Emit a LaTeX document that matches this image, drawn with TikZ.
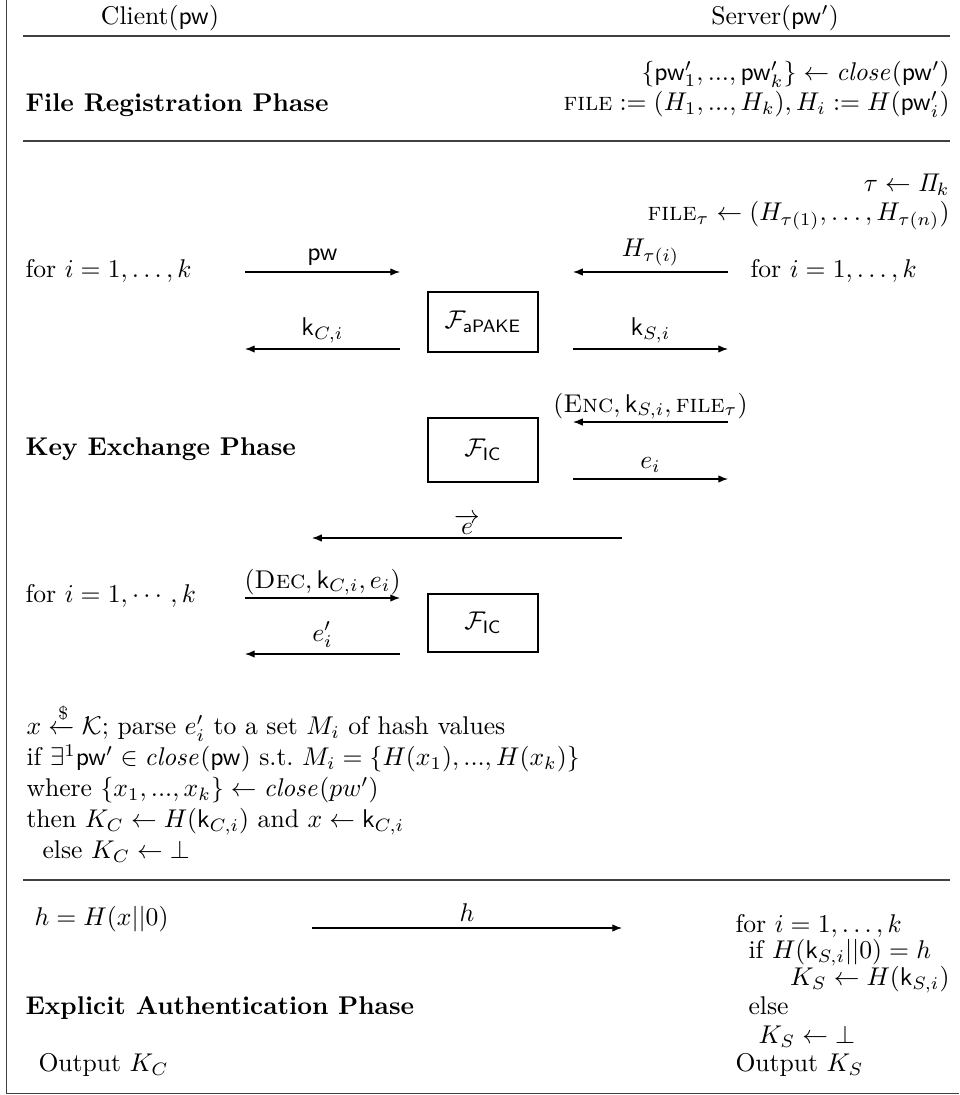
\documentclass[tikz,border=0pt]{standalone}
\usepackage{amsmath,amssymb}
\usetikzlibrary{arrows.meta}
\begin{document}
\begin{tikzpicture}[x=0.39pt,y=-0.39pt,
  msg/.style={-{Latex[length=3.8pt,width=2.9pt]},line width=0.42pt},
  rule/.style={line width=0.7pt,draw=black!75},
  func/.style={draw,line width=0.45pt,minimum width={110*0.39pt},inner sep=0pt},
  txtl/.style={anchor=mid west,inner sep=0pt},
  txtr/.style={anchor=mid east,inner sep=0pt},
  lbl/.style={above,inner sep=2.2pt}]
\useasboundingbox (0,0) rectangle (959,1095);

% outer frame (left and bottom edges)
\draw[rule] (6.5,0) -- (6.5,1093.5) -- (959,1093.5);

% parties
\node[inner sep=0pt] (client) at (160,18) {Client($\mathsf{pw}$)};
\node[inner sep=0pt] (server) at (775,18) {Server($\mathsf{pw}'$)};
\draw[rule] (23,36) -- (950,36);

% file registration phase
\node[txtr] (reg1) at (950,75) {$\{\mathsf{pw}'_1,...,\mathsf{pw}'_k\}\leftarrow \mathit{close}(\mathsf{pw}')$};
\node[txtr] (reg2) at (950,105) {$\textsc{file}:=(H_1,...,H_k), H_i:=H(\mathsf{pw}'_i)$};
\node[txtl] (ph1) at (25,106) {\textbf{File Registration Phase}};
\draw[rule] (23,141) -- (950,141);

% key exchange phase
\node[txtr] (perm) at (950,186) {$\tau\leftarrow \mathit{\Pi}_k$};
\node[txtr] (filetau) at (950,215) {$\textsc{file}_\tau\leftarrow (H_{\tau(1)},\ldots,H_{\tau(n)})$};
\node[txtl] (forc1) at (25,272) {for $i=1,\ldots,k$};
\node[txtl] (fors1) at (750,272) {for $i=1,\ldots,k$};
\node[txtl] (ph2) at (25,450) {\textbf{Key Exchange Phase}};

\node[func,minimum height={60*0.39pt}] (apake) at (483,322) {$\mathcal{F}_{\mathsf{aPAKE}}$};
\node[func,minimum height={64*0.39pt}] (ic1) at (483,450) {$\mathcal{F}_{\mathsf{IC}}$};
\node[func,minimum height={58*0.39pt}] (ic2) at (483,623) {$\mathcal{F}_{\mathsf{IC}}$};

\coordinate (cL1) at (245,272); \coordinate (cR1) at (400,272);
\coordinate (sL1) at (573,272); \coordinate (sR1) at (728,272);
\coordinate (cL2) at (245,349); \coordinate (cR2) at (400,349);
\coordinate (sL2) at (573,349); \coordinate (sR2) at (728,349);
\coordinate (sL3) at (573,422); \coordinate (sR3) at (728,422);
\coordinate (sL4) at (573,479); \coordinate (sR4) at (728,479);
\coordinate (eR) at (622,538); \coordinate (eL) at (312,538);
\coordinate (cL5) at (245,598); \coordinate (cR5) at (400,598);
\coordinate (cL6) at (245,654); \coordinate (cR6) at (400,654);

\draw[msg] (cL1) -- node[lbl] {$\mathsf{pw}$} (cR1);
\draw[msg] (sR1) -- node[lbl] {$H_{\tau(i)}$} (sL1);
\draw[msg] (cR2) -- node[lbl] {$\mathsf{k}_{C,i}$} (cL2);
\draw[msg] (sL2) -- node[lbl] {$\mathsf{k}_{S,i}$} (sR2);
\draw[msg] (sR3) -- node[lbl,inner sep=0.8pt] {$(\textsc{Enc},\mathsf{k}_{S,i},\textsc{file}_\tau)$} (sL3);
\draw[msg] (sL4) -- node[lbl] {$e_i$} (sR4);
\draw[msg] (eR) -- node[lbl,inner sep=1pt] {$\overrightarrow{e}$} (eL);

\node[txtl] (forc2) at (25,597) {for $i=1,\cdots,k$};
\draw[msg] (cL5) -- node[lbl,inner sep=0.8pt] {$(\textsc{Dec},\mathsf{k}_{C,i},e_i)$} (cR5);
\draw[msg] (cR6) -- node[lbl] {$e'_i$} (cL6);

% client-side check
\node[txtl] (chk1) at (26,729) {$x\xleftarrow{\$}\mathcal{K}$; parse $e'_i$ to a set $M_i$ of hash values};
\node[txtl] (chk2) at (26,760) {if $\exists^1\mathsf{pw}'\in\mathit{close}(\mathsf{pw})$ s.t.\ $M_i=\{H(x_1),...,H(x_k)\}$};
\node[txtl] (chk3) at (26,791) {where $\{x_1,...,x_k\}\leftarrow \mathit{close}(pw')$};
\node[txtl] (chk4) at (26,822) {then $K_C\leftarrow H(\mathsf{k}_{C,i})$ and $x\leftarrow \mathsf{k}_{C,i}$};
\node[txtl] (chk5) at (42,853) {else $K_C\leftarrow \bot$};
\draw[rule] (23,880) -- (950,880);

% explicit authentication phase
\node[txtl] (hval) at (34,920) {$h=H(x||0)$};
\coordinate (hL) at (312,928); \coordinate (hR) at (622,928);
\draw[msg] (hL) -- node[lbl] {$h$} (hR);
\node[txtl] (fors2) at (735,927) {for $i=1,\ldots,k$};
\node[txtl] (ifs) at (748,953) {if $H(\mathsf{k}_{S,i}||0)=h$};
\node[txtr] (ks1) at (950,980) {$K_S\leftarrow H(\mathsf{k}_{S,i})$};
\node[txtl] (elses) at (748,1009) {else};
\node[txtl] (ks2) at (758,1038) {$K_S\leftarrow\bot$};
\node[txtl] (ph3) at (25,1009) {\textbf{Explicit Authentication Phase}};
\node[txtl] (outc) at (38,1066) {Output $K_C$};
\node[txtl] (outs) at (735,1066) {Output $K_S$};
\end{tikzpicture}
\end{document}
